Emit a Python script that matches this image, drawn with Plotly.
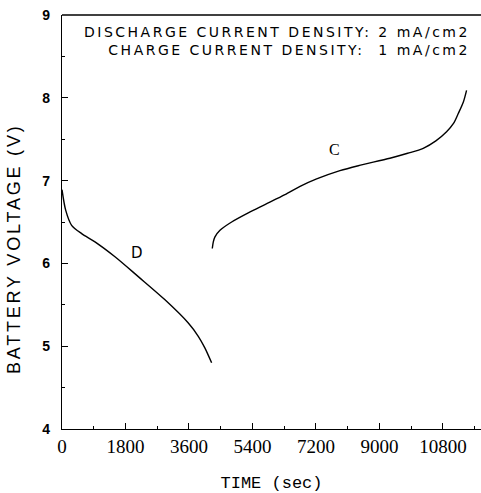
import plotly.graph_objects as go

# Discharge curve D
d_time = [0, 106, 273, 557, 935, 1502, 2163, 2920, 3581, 3864, 4050, 4242]
d_volt = [6.89, 6.64, 6.46, 6.36, 6.26, 6.08, 5.84, 5.56, 5.28, 5.12, 4.98, 4.80]

# Charge curve C
c_time = [4261, 4290, 4337, 4479, 4810, 5281, 5754, 6321, 6750, 7219, 7880, 8400, 9297, 9800, 10242, 10600, 10904, 11100, 11235, 11380, 11471]
c_volt = [6.18, 6.26, 6.32, 6.40, 6.50, 6.61, 6.71, 6.83, 6.93, 7.02, 7.12, 7.18, 7.27, 7.33, 7.39, 7.48, 7.59, 7.69, 7.81, 7.95, 8.09]

x_ticks = [0, 1800, 3600, 5400, 7200, 9000, 10800]
y_ticks = [4, 5, 6, 7, 8, 9]

fig = go.Figure()
fig.add_trace(go.Scatter(x=d_time, y=d_volt, mode="lines", line=dict(color="black", width=1.4, shape="spline", smoothing=0.8), showlegend=False))
fig.add_trace(go.Scatter(x=c_time, y=c_volt, mode="lines", line=dict(color="black", width=1.4, shape="spline", smoothing=0.8), showlegend=False))

fig.add_annotation(x=2135, y=6.12, text="D", showarrow=False, font=dict(family="DejaVu Sans", size=15, color="black"))
fig.add_annotation(x=7739, y=7.37, text="C", showarrow=False, font=dict(family="Liberation Serif", size=16, color="black"))
fig.add_annotation(xref="paper", yref="paper", x=0.978, y=0.983, xanchor="right", yanchor="top", align="right",
                   text="<span style='letter-spacing:2.5px'>DISCHARGE CURRENT DENSITY: 2 mA/cm2</span><br>"
                        "<span style='letter-spacing:2.5px'>CHARGE CURRENT DENSITY:  1 mA/cm2</span>",
                   showarrow=False, font=dict(family="DejaVu Sans", size=14, color="black"))
# y-axis title placed as rotated text
fig.add_annotation(xref="paper", yref="paper", x=-0.1146, y=0.437, xanchor="center", yanchor="middle",
                   textangle=-90, showarrow=False,
                   text="<span style='letter-spacing:2.8px'>BATTERY VOLTAGE (V)</span>",
                   font=dict(family="Liberation Sans", size=18, color="black"))

fig.add_shape(type="line", xref="paper", yref="paper", x0=0, x1=1, y0=1, y1=1, line=dict(color="black", width=1.3))

fig.update_xaxes(range=[0, 11880], tickvals=x_ticks, ticktext=[str(v) for v in x_ticks],
                 ticks="inside", ticklen=6, tickcolor="black", tickwidth=1,
                 minor=dict(tickvals=[900, 2700, 4500, 6300, 8100, 9900, 11700], ticks="inside", ticklen=3, tickcolor="black"),
                 showline=True, linecolor="black", linewidth=1.3, showgrid=False, zeroline=False,
                 tickfont=dict(family="Liberation Serif", size=19, color="black"),
                 title=dict(text="TIME (sec)", font=dict(family="Liberation Mono", size=17, color="black"), standoff=21))
fig.update_yaxes(range=[4, 9], tickvals=y_ticks, ticktext=["<b>%d</b>" % v for v in y_ticks],
                 ticks="inside", ticklen=6, tickcolor="black", tickwidth=1, ticklabelstandoff=8,
                 minor=dict(tickvals=[4.5, 5.5, 6.5, 7.5, 8.5], ticks="inside", ticklen=3, tickcolor="black"),
                 showline=True, linecolor="black", linewidth=1.3, showgrid=False, zeroline=False,
                 tickfont=dict(family="Liberation Sans", size=14, color="black"))

fig.update_layout(width=481, height=493, margin=dict(l=62, r=0, t=15, b=64),
                  plot_bgcolor="white", paper_bgcolor="white")

fig.write_html("out.html")
